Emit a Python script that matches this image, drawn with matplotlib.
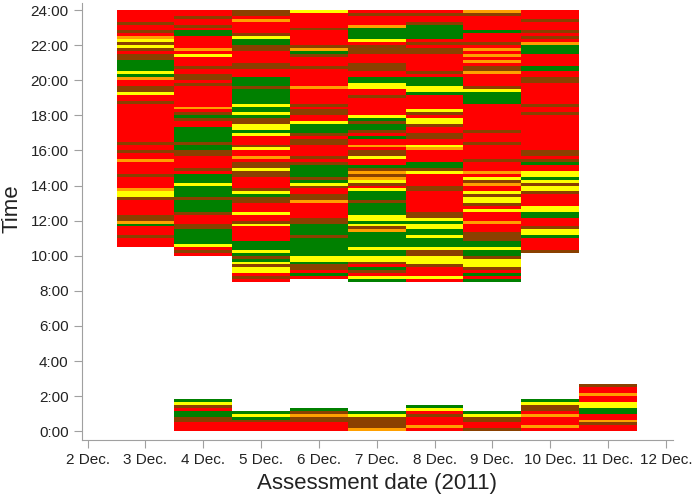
import numpy as np
from matplotlib import pyplot as plt

# 10-minute bins, read from the top of each bar downwards
# R = red, G = green, Y = yellow, O = orange, B = brown (mixed)
evening_days = [3, 4, 5, 6, 7, 8, 9, 10]
evening_bins = [
	"RRRR B RR B R O Y B Y B R B B GGGG Y G O RR BB Y RR B RRRRRRRRRRRRR B RR B RR O RRRR B RRRR O YY B RRRRR BB O G RRR B RRR",
	"RR B RR B R GG RRRR O R Y RRR B RR BB R B RRRRRRR O R B G B RR GGGGG B GG BB RRRR B R GGG Y GGGG B GGGG B RRR BB GGGGG Y R B R",
	"BB R O RRRR B Y GG BB RRRR BB RRR GGG B GGGGG Y GG Y G BB YY G Y RRR B Y RR O R BB Y BB RRRR B Y G BB RRR Y RR B Y RRRRR GGG Y G B G Y B YY R B R",
	"Y RRRRR B RRRRR B O G B RRR B RRRRRR O RRRRR B R BB RR Y GGG B R B B RRRR B R B GGGG B G Y B RR BB O RRRRR BB GGGG B GGGGGG YY G BB R G R",
	"R B RRR O GGGG Y R BBB RRR BBB RR GG YY RR B RRRRRR Y G B GG B R G RR O R BB Y RR G B O B O Y B R Y GGG B GGGG YY G Y B O GGGGG Y GG YY B R G B R Y G",
	"R B RR B GGGGG R B R BB RRRRRR B R GGG YY G RRRRR Y B R YY B RR BB RR Y O RRRR GG B Y RRRR BB RRRRRRR BB Y G YY GG Y GGG Y BB YYY B RRR Y R",
	"O B RRRRR G RRR B R O R O R O R BB O RRRR B Y GGGG RRRRRRRRR B RRR B RRRRR B RRR O R Y B O RR Y B YY B R Y RRR O RRR BBB GG Y GG B YYY B R G R G",
	"RRR B RRR B R B R O GGG RRRR GG RR BB RRRRRRR B RR B RRRRRRRRRRRR BB R B G RR YY G Y B YY B RRRR YY GG RRR B YY G RRRR B",
]
night_days = [4, 5, 6, 7, 8, 9, 10, 11]
night_bins = [
	"G Y B R G G B B R R R",
	"G Y G B R R R",
	"G B O B B R R R",
	"G Y B B B B O",
	"G Y R B R R R O R",
	"G Y B B R R B",
	"G Y B B R O R R R O R",
	"B R R O R R Y Y G G R R O B R R",
]
date_labels = ["2 Dec.", "3 Dec.", "4 Dec.", "5 Dec.", "6 Dec.", "7 Dec.",
			   "8 Dec.", "9 Dec.", "10 Dec.", "11 Dec.", "12 Dec."]

colors = {"R": "#ff0000", "G": "#008000", "Y": "#ffff00",
		  "O": "#ffa000", "B": "#8a4000"}
binh = 1/6.

def draw_column(ax, day, bins, top):
	s = bins.replace(" ", "")
	i = 0
	while i < len(s):
		j = i
		while j < len(s) and s[j] == s[i]:
			j += 1
		hi = top - i*binh
		lo = top - j*binh
		ax.bar(day, hi - lo, bottom=lo, width=1.0, color=colors[s[i]],
			   linewidth=0, align='center')
		i = j

plt.rcParams['font.family'] = ['Liberation Sans', 'DejaVu Sans']
fig = plt.figure(figsize=(7, 5), dpi=100)
ax = fig.add_axes([0.117, 0.12, 0.844, 0.874])

for d, b in zip(evening_days, evening_bins):
	draw_column(ax, d, b, 24.0)
for d, b in zip(night_days, night_bins):
	n = len(b.replace(" ", ""))
	draw_column(ax, d, b, n*binh)

ax.set_xlim(1.9, 12.12)
ax.set_ylim(-0.5, 24.4)
ax.set_xticks(np.arange(2, 13))
ax.set_xticklabels(date_labels)
ax.set_yticks(np.arange(0, 25, 2))
ax.set_yticklabels(["%d:00" % h for h in range(0, 25, 2)])

for side in ['top', 'right']:
	ax.spines[side].set_visible(False)
for side in ['left', 'bottom']:
	ax.spines[side].set_color('#a0a0a0')
ax.tick_params(colors='#a0a0a0', labelcolor='#222222', length=6, labelsize=11)

ax.set_xlabel("Assessment date (2011)", fontsize=16, color='#222222')
ax.set_ylabel("Time", fontsize=16, color='#222222')
ax.xaxis.set_label_coords(0.5, -0.075)
ax.yaxis.set_label_coords(-0.1, 0.53)

plt.savefig('out.png', dpi=100)
